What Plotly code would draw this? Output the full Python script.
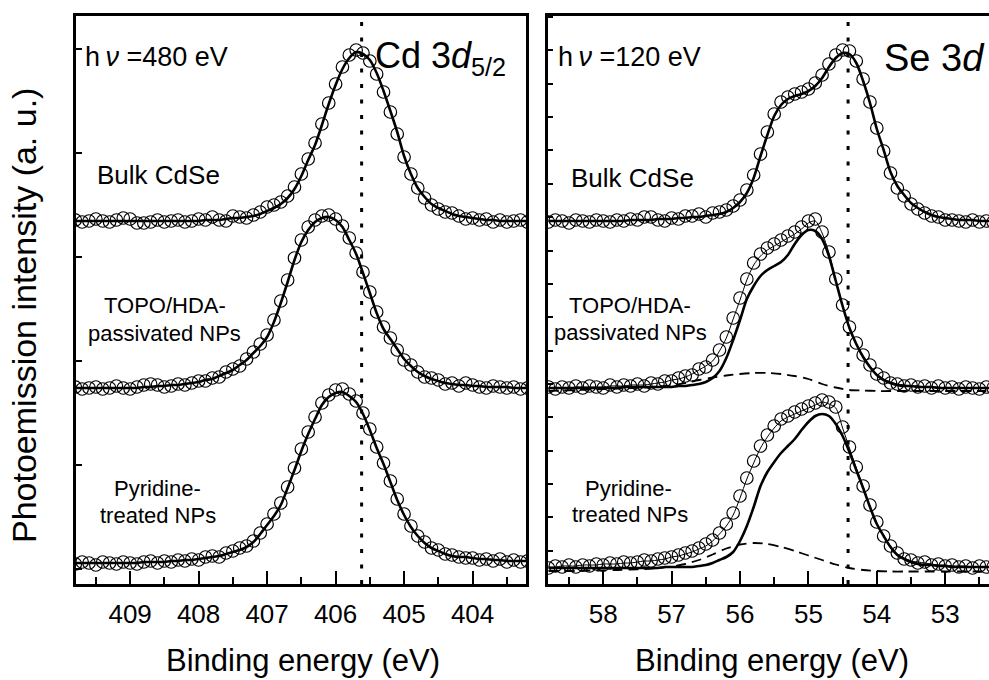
import numpy as np
import plotly.graph_objects as go

# ---------------- data (intensity in arbitrary units) ----------------
# Cd 3d5/2, hv = 480 eV ; binding energies 409.8 -> 403.2 eV, step 0.1
cd_energy = np.round(409.8 - 0.1 * np.arange(67), 2)

cd_bulk_data = [364,362,363,365,363,362,364,366,365,361,
                361,362,364,362,363,364,362,363,365,364,
                367,364,363,368,367,366,369,372,377,379,
                382,388,397,410,425,441,460,481,500,517,
                529,534,531,523,510,492,472,450,427,410,
                396,386,379,375,372,371,368,365,366,364,
                365,362,364,362,363,364,362]
cd_bulk_fit = [363,363,363,363,363,363,363,363,363,363,
               363,363,363,363,363,363,363,363,363,364,
               364,364,365,366,366,367,368,370,373,376,
               380,386,395,408,424,439,459,480,499,515,
               526,532,530,524,511,493,473,452,428,410,
               396,387,380,376,373,370,368,367,366,365,
               364,364,363,363,363,363,363]

cd_topo_data = [197,195,196,197,195,196,198,196,195,197,
                199,200,199,197,198,200,199,201,203,203,
                206,207,212,215,218,225,232,240,249,264,
                283,304,326,344,357,364,368,369,365,358,
                346,331,312,292,272,257,246,234,224,219,
                212,207,206,204,200,201,198,201,199,197,
                196,198,197,196,197,195,196]
cd_topo_fit = [196,196,196,196,196,196,196,196,196,196,
               197,197,198,198,199,199,200,201,202,204,
               205,208,211,214,219,224,231,238,247,262,
               281,302,324,342,354,362,366,367,364,357,
               344,330,311,291,271,255,245,235,225,218,
               212,208,205,203,201,200,199,199,198,198,
               197,197,197,197,196,196,196]

cd_pyr_data = [20,22,21,19,22,21,20,22,21,20,
               22,23,21,23,22,24,23,25,24,27,
               28,27,31,33,36,38,43,51,60,70,
               81,97,116,135,152,167,181,189,194,195,
               190,183,171,155,137,121,103,85,70,58,
               48,42,36,34,30,29,27,26,26,24,
               25,23,25,22,24,22,23]
cd_pyr_fit = [21,21,21,21,21,21,21,21,21,21,
              22,22,22,22,23,23,24,24,25,26,
              27,28,30,32,34,37,42,50,59,68,
              79,96,114,133,150,165,179,187,191,192,
              188,182,170,154,136,120,102,84,69,57,
              48,41,36,33,30,28,27,27,26,25,
              25,24,24,23,23,23,23]

# Se 3d, hv = 120 eV ; binding energies 58.8 -> 52.3 eV, step 0.1
se_energy = np.round(58.8 - 0.1 * np.arange(66), 2)
# surface components sampled every 0.2 eV
se_comp_energy = np.round(58.8 - 0.2 * np.arange(33), 2)

se_bulk_data = [362,364,363,361,364,363,362,364,363,362,
                364,363,365,364,367,367,364,363,366,365,
                368,368,370,367,371,372,374,378,384,394,
                409,430,452,470,482,487,490,492,495,501,
                509,520,529,534,533,523,505,482,456,433,
                411,396,388,380,375,371,368,367,364,364,
                363,362,364,362,363,362]
se_bulk_fit = [363,363,363,363,363,363,363,363,363,363,
               363,363,364,364,364,364,365,365,365,366,
               366,367,367,368,369,370,372,376,382,391,
               406,428,449,468,479,485,488,490,493,498,
               506,517,526,531,530,521,503,481,455,434,
               412,398,389,381,376,372,369,367,366,365,
               364,364,364,363,363,363]

se_topo_data = [197,195,197,196,198,196,198,197,196,199,
                197,199,198,200,198,201,200,203,203,206,
                208,209,215,217,224,234,247,266,286,305,
                321,330,336,340,344,348,352,357,363,365,
                352,332,305,279,257,241,229,219,210,206,
                201,200,198,199,197,198,196,198,196,197,
                195,197,196,195,197,196]
se_topo_total = [196,196,196,196,197,197,197,197,197,198,
                 198,198,199,199,199,200,201,202,204,205,
                 207,210,214,218,223,233,246,265,284,304,
                 319,328,334,338,342,346,350,355,361,363,
                 351,331,304,278,256,240,228,218,210,205,
                 202,200,199,198,198,197,197,197,196,196,
                 196,196,196,196,196,196]
se_topo_bulk = [196,196,196,196,196,196,196,196,196,196,
                196,197,197,197,197,197,197,197,197,198,
                198,199,200,202,206,213,226,244,264,285,
                298,308,314,318,322,329,340,349,354,353,
                345,328,303,278,256,240,227,217,209,204,
                201,199,198,198,197,197,197,196,196,196,
                196,196,196,196,196,196]
se_topo_surface = [193,193.5,194,194.5,195,195.5,196,196.5,197.5,198.5,
                   201,204,206.5,208.5,210,211,211,210,208,205,
                   200,196.5,194,193.5,193,193,193,193,193,193,
                   193,193,193]

se_pyr_data = [16,18,17,19,17,19,18,20,19,21,
               20,22,21,22,24,23,25,26,27,29,
               31,33,36,40,44,51,60,71,88,106,
               123,138,149,158,165,168,172,175,178,181,
               184,182,177,157,137,117,98,79,62,48,
               38,31,25,24,21,22,19,20,18,19,
               17,18,16,18,17,17]
se_pyr_total = [17,17,18,18,18,19,19,19,20,20,
                20,21,21,22,23,23,24,25,27,28,
                30,32,35,38,43,50,58,69,86,105,
                121,136,147,156,163,167,170,173,176,179,
                182,180,176,156,136,116,97,78,61,49,
                38,30,26,23,22,21,20,19,19,18,
                18,18,17,17,17,17]
se_pyr_bulk = [16,16,16,16,16,16,16,16,16,16,
               16,16,16,16,16,16,16,17,17,17,
               17,17,18,19,21,24,27,32,43,58,
               77,98,112,122,131,138,145,154,162,168,
               170,168,160,148,132,114,96,77,60,48,
               37,29,25,22,20,19,19,18,18,17,
               17,17,17,17,17,17]
se_pyr_surface = [13,13,13,13.5,13.5,14,14.5,15,16,17.5,
                  20,24,29.5,35.5,39.5,41,40,37,33,28.5,
                  24,19.5,16,14,13,12.5,12.5,12.5,12.5,12.5,
                  12.5,12.5,12.5]

cd_ref_energy = 405.62   # dotted reference line, Cd panel
se_ref_energy = 54.42    # dotted reference line, Se panel

cd_ticks = [409, 408, 407, 406, 405, 404]
se_ticks = [58, 57, 56, 55, 54, 53]

# ---------------- figure ----------------
W, H = 989, 680
FONT = "Liberation Sans, Arial, Helvetica, sans-serif"

fig = go.Figure()

def add_markers(x, y, xa, ya):
    fig.add_trace(go.Scatter(x=x, y=y, mode="markers", xaxis=xa, yaxis=ya,
                             marker=dict(symbol="circle-open", size=12.5, color="black",
                                         line=dict(width=1.2, color="black")),
                             hoverinfo="skip"))

def add_line(x, y, xa, ya, width=2.6, dash="solid"):
    fig.add_trace(go.Scatter(x=x, y=y, mode="lines", xaxis=xa, yaxis=ya,
                             line=dict(color="black", width=width, dash=dash,
                                       shape="spline", smoothing=0.8),
                             hoverinfo="skip"))

# Cd panel
for d, f in [(cd_bulk_data, cd_bulk_fit), (cd_topo_data, cd_topo_fit), (cd_pyr_data, cd_pyr_fit)]:
    add_markers(cd_energy, d, "x", "y")
    add_line(cd_energy, f, "x", "y")

# Se panel
add_markers(se_energy, se_bulk_data, "x2", "y2")
add_line(se_energy, se_bulk_fit, "x2", "y2")
for d, t, b, s in [(se_topo_data, se_topo_total, se_topo_bulk, se_topo_surface),
                   (se_pyr_data, se_pyr_total, se_pyr_bulk, se_pyr_surface)]:
    add_markers(se_energy, d, "x2", "y2")
    add_line(se_energy, t, "x2", "y2", width=1.0)
    add_line(se_energy, b, "x2", "y2", width=2.6)
    add_line(se_comp_energy, s, "x2", "y2", width=1.8, dash="10px,6px")

ydom = [1 - 584 / H, 1 - 15.5 / H]

axis_common = dict(showline=True, linecolor="black", linewidth=2.5, showgrid=False,
                   zeroline=False, tickcolor="black")

fig.update_layout(
    width=W, height=H, autosize=False,
    margin=dict(l=0, r=0, t=0, b=0),
    paper_bgcolor="white", plot_bgcolor="white",
    showlegend=False,
    font=dict(family=FONT, color="black"),
    xaxis=dict(domain=[76 / W, 526 / W], range=[409.79, 403.22], anchor="y", mirror=True,
               ticks="inside", ticklen=13, tickwidth=1.5, tickmode="array",
               tickvals=cd_ticks, ticktext=[str(t) for t in cd_ticks],
               tickfont=dict(size=26, family=FONT), ticklabelstandoff=5,
               minor=dict(ticks="inside", ticklen=7, tickwidth=1.5, tickcolor="black",
                          dtick=0.5, tick0=0, showgrid=False),
               **axis_common),
    yaxis=dict(domain=ydom, range=[0, 568.5], anchor="x", mirror=True,
               ticks="inside", ticklen=6, tickwidth=1.5, tick0=14.7, dtick=104,
               showticklabels=False, **axis_common),
    xaxis2=dict(domain=[547.5 / W, 1.0], range=[58.814, 52.36], anchor="y2", mirror=True,
                ticks="inside", ticklen=13, tickwidth=1.5, tickmode="array",
                tickvals=se_ticks, ticktext=[str(t) for t in se_ticks],
                tickfont=dict(size=26, family=FONT), ticklabelstandoff=5,
                minor=dict(ticks="inside", ticklen=7, tickwidth=1.5, tickcolor="black",
                           dtick=0.5, tick0=0, showgrid=False),
                **axis_common),
    yaxis2=dict(domain=ydom, range=[0, 568.5], anchor="x2", mirror=False,
                ticks="inside", ticklen=6, tickwidth=1.5, tick0=0, dtick=33.35,
                showticklabels=False, **axis_common),
)

# dotted reference lines
for xr, yr, e in [("x", "y domain", cd_ref_energy), ("x2", "y2 domain", se_ref_energy)]:
    fig.add_shape(type="line", xref=xr, yref=yr, x0=e, x1=e, y0=0, y1=1,
                  line=dict(color="black", width=3, dash="4px,11.5px"))

def px(x):
    return x / W

def py(y):
    return 1 - y / H

def note(text, x, y, size, anchor="left", angle=0):
    fig.add_annotation(text=text, x=px(x), y=py(y), xref="paper", yref="paper",
                       xanchor=anchor, yanchor="middle", showarrow=False, textangle=angle,
                       font=dict(size=size, family=FONT, color="black"))

# panel labels
note("h\u2009<i>ν</i> =480 eV", 83, 57, 27)
note("Cd 3<i>d</i><sub>5/2</sub>", 373, 58, 36)
note("Bulk CdSe", 95, 175, 26)
note("TOPO/HDA-", 165, 306, 22, "center")
note("passivated NPs", 164, 333, 22, "center")
note("Pyridine-", 157, 488, 22, "center")
note("treated NPs", 158, 515, 22, "center")

note("h\u2009<i>ν</i> =120 eV", 556, 57, 27)
note("Se 3<i>d</i>", 882, 58, 38)
note("Bulk CdSe", 569, 178, 26)
note("TOPO/HDA-", 630, 306, 22, "center")
note("passivated NPs", 630, 332, 22, "center")
note("Pyridine-", 628, 488, 22, "center")
note("treated NPs", 630, 514, 22, "center")

# axis titles
note("Binding energy (eV)", 303, 660, 31, "center")
note("Binding energy (eV)", 772, 660, 31, "center")
note("Photoemission intensity (a. u.)", 24, 316, 34, "center", angle=-90)

fig.write_html("out.html")
